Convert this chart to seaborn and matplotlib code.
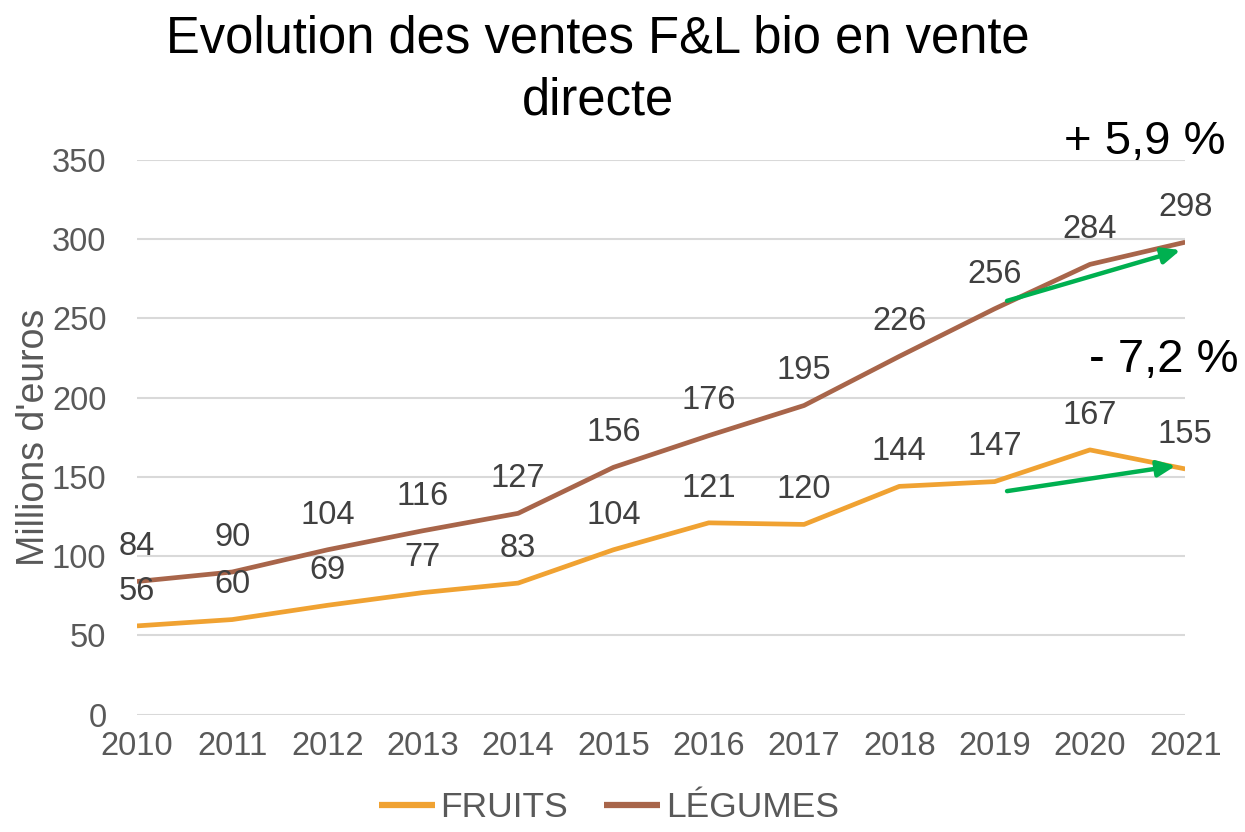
import pandas as pd
import matplotlib.pyplot as plt
import seaborn as sns

# données (millions d'euros)
annees = [2010, 2011, 2012, 2013, 2014, 2015, 2016, 2017, 2018, 2019, 2020, 2021]
fruits = [56, 60, 69, 77, 83, 104, 121, 120, 144, 147, 167, 155]
legumes = [84, 90, 104, 116, 127, 156, 176, 195, 226, 256, 284, 298]

# flèches de tendance 2019 -> 2021 : (x0, y0, x1, y1)
fleche_legumes = [2019.13, 261, 2020.95, 293]
fleche_fruits = [2019.13, 141, 2020.9, 157]
txt_legumes = "+ 5,9 %"
txt_fruits = "- 7,2 %"

couleurs = {"FRUITS": "#F0A232", "LÉGUMES": "#A8654A"}

df = pd.DataFrame({"Année": annees * 2,
                   "Valeur": fruits + legumes,
                   "Série": ["FRUITS"] * len(annees) + ["LÉGUMES"] * len(annees)})

sns.set_theme(style="white")
plt.rcParams['font.family'] = ['Liberation Sans', 'DejaVu Sans']

fig = plt.figure(figsize=(12.45, 8.32), dpi=100)
ax = fig.add_axes([0.110, 0.141, 0.842, 0.667])

sns.lineplot(data=df, x="Année", y="Valeur", hue="Série", palette=couleurs,
             linewidth=3.4, ax=ax, solid_capstyle="butt")

# étiquettes de données
for serie, vals in [("FRUITS", fruits), ("LÉGUMES", legumes)]:
    for a, v in zip(annees, vals):
        ax.annotate(str(v), (a, v), xytext=(0, 25), textcoords="offset points",
                    ha="center", va="center", fontsize=23.5, color="#404040")

# flèches vertes
for f in [fleche_legumes, fleche_fruits]:
    ax.annotate("", xy=(f[2], f[3]), xytext=(f[0], f[1]),
                arrowprops=dict(arrowstyle="-|>,head_length=0.9,head_width=0.4",
                                color="#00B050", lw=3.2, shrinkA=0, shrinkB=0))

ax.text(2020.58, 361, txt_legumes, fontsize=34, ha="center", va="center", color="black")
ax.text(2020.77, 224, txt_fruits, fontsize=34, ha="center", va="center", color="black")

ax.set_xlim(2010, 2021)
ax.set_ylim(0, 350)
ax.set_yticks(range(0, 351, 50))
ax.set_xticks(annees)
ax.grid(axis="y", color="#D9D9D9", linewidth=1.5)
ax.set_axisbelow(True)
for s in ax.spines.values():
    s.set_visible(False)
ax.tick_params(axis="both", labelsize=23.5, colors="#595959", length=0)
ax.tick_params(axis="y", pad=22)
ax.tick_params(axis="x", pad=12)
ax.set_xlabel("")
ax.set_ylabel("Millions d'euros", fontsize=27, color="#595959", labelpad=0)

fig.suptitle("Evolution des ventes F&L bio en vente\ndirecte", fontsize=36.5,
             y=0.982, x=0.48, va="top", linespacing=1.32, color="black")

leg = ax.legend(loc="upper center", bbox_to_anchor=(0.45, -0.1), ncol=2,
                frameon=False, fontsize=25.5, handlelength=1.6, columnspacing=1.0,
                handletextpad=0.15, borderaxespad=0.2)
for t in leg.get_texts():
    t.set_color("#595959")
for l in leg.get_lines():
    l.set_linewidth(4.5)

fig.savefig("out.png", dpi=100)
